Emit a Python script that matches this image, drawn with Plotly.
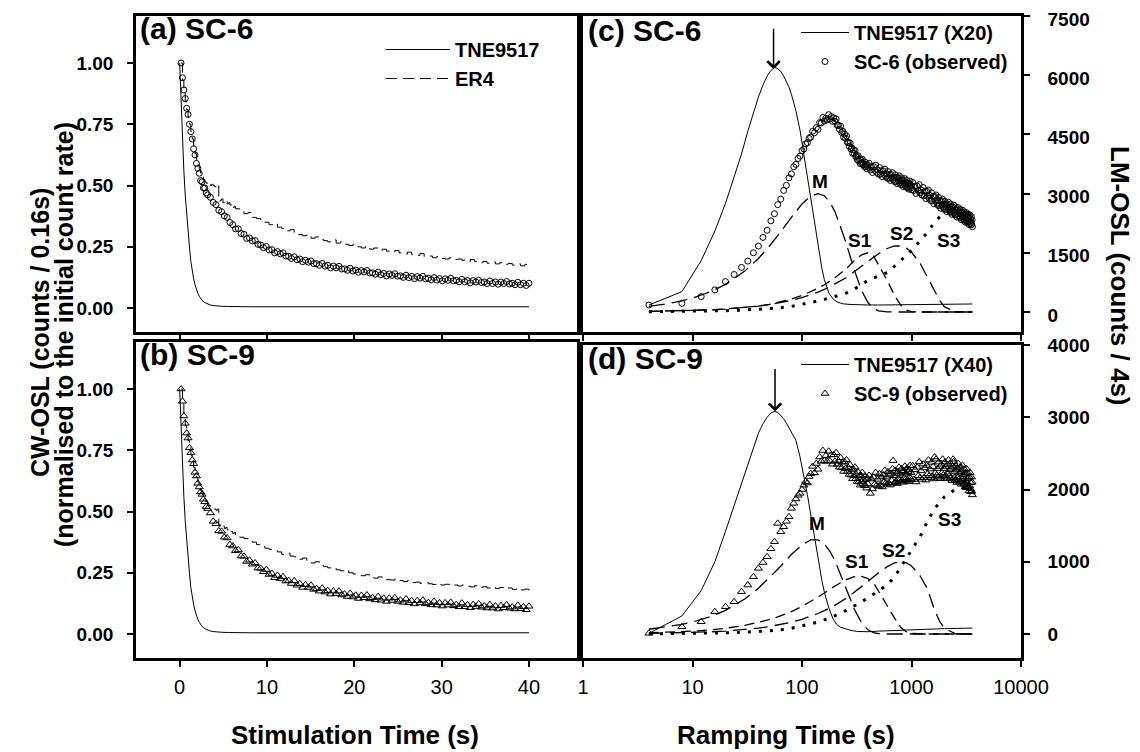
import math
import plotly.graph_objects as go

# ---------------- DATA ----------------
# CW-OSL channel times (s): 0.16 s channels up to 3.2 s, then every second channel
t_cw_obs = [round(0.16 * k, 2) for k in range(1, 21)] + [round(3.2 + 0.32 * k, 2) for k in range(1, 116)]

sc6_cw = [1.00, 0.94, 0.89, 0.855, 0.815, 0.79, 0.75, 0.72, 0.69, 0.65, 0.625, 0.59, 0.57, 0.55, 0.52, 0.515, 0.49, 0.49, 0.47, 0.462,
          0.452, 0.431, 0.422, 0.399, 0.393, 0.376, 0.370, 0.349, 0.340, 0.323,
          0.323, 0.304, 0.301, 0.284, 0.286, 0.274, 0.275, 0.260, 0.257, 0.246,
          0.251, 0.237, 0.238, 0.225, 0.230, 0.221, 0.225, 0.212, 0.211, 0.202,
          0.209, 0.197, 0.200, 0.189, 0.195, 0.187, 0.192, 0.181, 0.181, 0.174,
          0.182, 0.171, 0.174, 0.164, 0.171, 0.164, 0.170, 0.159, 0.160, 0.154,
          0.162, 0.151, 0.155, 0.146, 0.153, 0.147, 0.153, 0.143, 0.144, 0.138,
          0.146, 0.136, 0.141, 0.131, 0.139, 0.133, 0.140, 0.130, 0.131, 0.125,
          0.134, 0.124, 0.129, 0.120, 0.128, 0.122, 0.129, 0.119, 0.121, 0.115,
          0.124, 0.114, 0.120, 0.111, 0.119, 0.113, 0.121, 0.111, 0.113, 0.107,
          0.117, 0.107, 0.112, 0.103, 0.112, 0.106, 0.113, 0.104, 0.106, 0.100,
          0.110, 0.100, 0.106, 0.097, 0.106, 0.100, 0.108, 0.098, 0.101, 0.095,
          0.105, 0.095, 0.101, 0.092, 0.101]

sc9_cw = [1.0, 0.95, 0.89, 0.86, 0.82, 0.8, 0.76, 0.74, 0.71, 0.695, 0.66, 0.645, 0.615, 0.6, 0.58, 0.57, 0.55, 0.54, 0.52, 0.512,
          0.494, 0.460, 0.450, 0.421, 0.419, 0.395, 0.392, 0.365, 0.359, 0.340,
          0.343, 0.318, 0.317, 0.296, 0.301, 0.285, 0.290, 0.269, 0.268, 0.254,
          0.263, 0.243, 0.247, 0.230, 0.239, 0.226, 0.234, 0.216, 0.218, 0.206,
          0.217, 0.199, 0.205, 0.190, 0.201, 0.190, 0.199, 0.182, 0.185, 0.175,
          0.187, 0.171, 0.177, 0.163, 0.175, 0.165, 0.175, 0.159, 0.163, 0.153,
          0.166, 0.151, 0.158, 0.145, 0.157, 0.148, 0.159, 0.143, 0.148, 0.139,
          0.153, 0.138, 0.146, 0.133, 0.146, 0.137, 0.148, 0.133, 0.138, 0.129,
          0.143, 0.128, 0.136, 0.123, 0.136, 0.127, 0.138, 0.123, 0.128, 0.119,
          0.133, 0.118, 0.127, 0.114, 0.127, 0.118, 0.129, 0.115, 0.120, 0.111,
          0.126, 0.111, 0.119, 0.107, 0.120, 0.112, 0.123, 0.109, 0.114, 0.106,
          0.120, 0.106, 0.114, 0.102, 0.116, 0.107, 0.119, 0.105, 0.110, 0.102,
          0.117, 0.103, 0.111, 0.099, 0.113]

# ER4 reference decay (0.16 s channels up to 6.4 s, then 0.48 s steps)
t_er4 = [round(0.16 * k, 2) for k in range(1, 41)] + [round(6.4 + 0.48 * k, 2) for k in range(1, 71)]
er4_a = [1.0, 0.93, 0.88, 0.845, 0.81, 0.78, 0.75, 0.72, 0.69, 0.66, 0.63, 0.605, 0.585, 0.565, 0.55, 0.535, 0.525, 0.515, 0.51, 0.505,
         0.51, 0.50, 0.505, 0.50, 0.495, 0.505, 0.50, 0.435, 0.44, 0.445, 0.43, 0.435, 0.44, 0.425, 0.43, 0.42, 0.425, 0.41, 0.415, 0.405,
         0.40, 0.385, 0.39, 0.37, 0.365, 0.355, 0.35, 0.34, 0.345, 0.33, 0.325, 0.315, 0.32, 0.305, 0.30, 0.295, 0.30, 0.285,
         0.29, 0.28, 0.275, 0.27, 0.278, 0.265, 0.27, 0.26, 0.255, 0.26, 0.25, 0.245, 0.252, 0.24, 0.245, 0.235, 0.24,
         0.232, 0.228, 0.235, 0.225, 0.22, 0.228, 0.218, 0.215, 0.222, 0.21, 0.212, 0.205, 0.21, 0.202, 0.20, 0.205, 0.198,
         0.20, 0.195, 0.19, 0.198, 0.19, 0.185, 0.19, 0.183, 0.188, 0.18, 0.185, 0.178, 0.182, 0.175, 0.18, 0.172, 0.178, 0.17]
er4_b = [1.0, 0.94, 0.89, 0.85, 0.82, 0.79, 0.76, 0.73, 0.71, 0.68, 0.66, 0.64, 0.62, 0.6, 0.585, 0.57, 0.56, 0.55, 0.54, 0.53,
         0.525, 0.52, 0.515, 0.51, 0.51, 0.505, 0.51, 0.44, 0.445, 0.435, 0.44, 0.43, 0.435, 0.425, 0.43, 0.42, 0.418, 0.41, 0.415, 0.405,
         0.395, 0.39, 0.38, 0.375, 0.365, 0.358, 0.35, 0.345, 0.34, 0.335, 0.325, 0.33, 0.318, 0.315, 0.305, 0.31, 0.298, 0.29,
         0.295, 0.28, 0.275, 0.27, 0.272, 0.262, 0.258, 0.262, 0.25, 0.245, 0.24, 0.238, 0.242, 0.232, 0.228, 0.233, 0.225,
         0.222, 0.22, 0.225, 0.218, 0.214, 0.218, 0.21, 0.212, 0.207, 0.21, 0.205, 0.202, 0.206, 0.2, 0.203, 0.198, 0.2,
         0.196, 0.2, 0.195, 0.192, 0.197, 0.19, 0.193, 0.188, 0.192, 0.186, 0.19, 0.184, 0.188, 0.182, 0.186, 0.18, 0.183, 0.178]

# TNE9517 normalised CW-OSL
t_tne_cw = [0, 0.16, 0.32, 0.48, 0.64, 0.8, 0.96, 1.12, 1.28, 1.44, 1.6, 1.76, 1.92, 2.08, 2.24, 2.4, 2.56, 2.88,
            3.2, 3.52, 3.84, 4.16, 4.8, 5.6, 6.4, 8, 10, 15, 20, 25, 30, 35, 40]
tne_cw = [1.0, 0.83, 0.68, 0.56, 0.46, 0.38, 0.31, 0.25, 0.19, 0.15, 0.12, 0.095, 0.075, 0.06, 0.048, 0.038, 0.031, 0.022,
          0.016, 0.012, 0.01, 0.008, 0.007, 0.006, 0.005, 0.005, 0.005, 0.005, 0.005, 0.005, 0.005, 0.005, 0.005]

# LM-OSL channel times (s)
t_lm = list(range(4, 121, 4)) + list(range(125, 401, 5)) + list(range(410, 1001, 10)) + list(range(1025, 3601, 25))

sc6_lm = [177, 220, 390, 560, 770, 950, 1130, 1290, 1500, 1670, 1890, 2070, 2310, 2490, 2720, 2860, 3080, 3210, 3400, 3500,
          3680, 3740, 3890, 3950, 4090, 4130, 4260, 4290, 4400, 4430,
          4580, 4540, 4670, 4630, 4800, 4790, 4930, 4840, 4910, 4870,
          5000, 4890, 4950, 4830, 4920, 4830, 4890, 4730, 4730, 4630,
          4710, 4550, 4580, 4430, 4510, 4400, 4460, 4300, 4300, 4200,
          4280, 4130, 4160, 4020, 4110, 4020, 4090, 3940, 3950, 3860,
          3960, 3830, 3880, 3760, 3860, 3780, 3870, 3730, 3760, 3690,
          3800, 3680, 3740, 3630, 3740, 3670,
          3770, 3598, 3686, 3535, 3684, 3593, 3722, 3540, 3600, 3490,
          3660, 3490, 3580, 3430, 3580, 3490, 3620, 3440, 3500, 3390,
          3560, 3390, 3482, 3334, 3486, 3398, 3530, 3352, 3414, 3306,
          3478, 3310, 3402, 3254, 3406, 3318, 3450, 3272, 3335, 3228,
          3401, 3234, 3327, 3180, 3333, 3246, 3379, 3202, 3265, 3158,
          3332, 3166, 3260, 3114, 3268, 3182, 3316, 3140, 3204, 3098,
          3282, 3080, 3187, 3005, 3192, 3080, 3227, 3015, 3092, 2960,
          3156, 2952, 3058, 2874, 3060, 2946, 3092, 2878, 2954, 2820,
          3018, 2816, 2924, 2742, 2930, 2818, 2966, 2754, 2832, 2700,
          2900, 2700, 2810, 2630, 2820, 2710, 2860, 2650, 2730, 2600,
          2803, 2606, 2719, 2542, 2735, 2628, 2781, 2574, 2657, 2530,
          2733, 2536, 2649, 2472, 2665, 2558, 2711, 2504, 2587, 2460,
          2663, 2467, 2580, 2404, 2597, 2491, 2644, 2438, 2521, 2395,
          2598, 2402, 2515, 2339, 2532, 2426, 2579, 2373, 2456, 2330,
          2534, 2338, 2452, 2276, 2470, 2364, 2518, 2312, 2396, 2270,
          2474, 2278, 2392, 2216, 2410, 2304, 2458, 2252, 2336, 2210,
          2415, 2220, 2335, 2160]

sc9_lm = [10, 101, 170, 309, 378, 447, 586, 678, 793, 909, 990, 1070, 1180, 1278, 1532, 1416, 1485, 1560, 1623, 1740,
          1809, 1870, 1920, 1947, 2000, 2060, 2110, 2090, 2180, 2220,
          2320, 2230, 2360, 2280, 2450, 2390, 2540, 2400, 2470, 2390,
          2530, 2395, 2480, 2350, 2480, 2390, 2510, 2350, 2400, 2310,
          2440, 2300, 2380, 2250, 2380, 2290, 2410, 2250, 2300, 2210,
          2340, 2200, 2280, 2150, 2280, 2190, 2310, 2150, 2200, 2110,
          2242, 2105, 2188, 2061, 2195, 2110, 2235, 2080, 2136, 2052,
          2188, 2055, 2142, 2020, 2158, 2076,
          2195, 1947, 2146, 2008, 2170, 2072, 2235, 2058, 2141, 2044,
          2217, 2060, 2173, 2036, 2199, 2102, 2265, 2088, 2171, 2074,
          2246, 2088, 2200, 2062, 2224, 2126, 2288, 2400, 2192, 2094,
          2266, 2108, 2220, 2082, 2244, 2146, 2308, 2130, 2212, 2114,
          2286, 2127, 2238, 2099, 2260, 2161, 2322, 2143, 2224, 2125,
          2296, 2137, 2248, 2109, 2270, 2171, 2332, 2153, 2234, 2135,
          2328, 2140, 2273, 2105, 2308, 2190, 2383, 2165, 2258, 2140,
          2353, 2165, 2298, 2130, 2333, 2215, 2408, 2190, 2283, 2165,
          2376, 2186, 2317, 2147, 2450, 2228, 2419, 2199, 2290, 2170,
          2380, 2190, 2320, 2150, 2350, 2230, 2420, 2200, 2290, 2170,
          2380, 2190, 2320, 2148, 2345, 2223, 2410, 2188, 2275, 2153,
          2360, 2168, 2295, 2123, 2320, 2420, 2385, 2163, 2250, 2128,
          2335, 2143, 2270, 2098, 2295, 2173, 2360, 2138, 2225, 2103,
          2310, 2118, 2245, 2073, 2270, 2148, 2335, 2113, 2200, 2078,
          2282, 2087, 2211, 2036, 2230, 2105, 2289, 2064, 2148, 2023,
          2227, 2032, 2156, 1981, 2175, 2050, 2234, 2009, 2093, 1968,
          2172, 1977, 2101, 1926]

# TNE9517 LM-OSL (scaled)
t_tne_lm = [4, 8, 12, 16, 20, 24, 28, 32, 36, 40, 44, 48, 52, 56, 60, 64, 68, 72, 76, 80, 88, 96, 104, 112, 120, 128, 136,
            144, 152, 160, 176, 192, 208, 224, 240, 280, 320, 400, 500, 700, 1000, 1500, 2000, 3000, 3600]
tne_lm_x20 = [177, 515, 1300, 2050, 2750, 3400, 4000, 4580, 5050, 5450, 5750, 5980, 6120, 6200, 6170, 6100, 5980, 5850, 5700,
              5520, 5100, 4600, 4000, 3400, 2850, 2350, 1900, 1450, 1100, 820, 480, 330, 260, 225, 205, 190, 182, 178, 177,
              180, 185, 190, 195, 200, 203]
tne_lm_x40 = [10, 250, 600, 1000, 1420, 1780, 2100, 2370, 2600, 2780, 2910, 3000, 3060, 3080, 3070, 3030, 2980, 2920, 2860,
              2800, 2680, 2450, 2200, 1930, 1660, 1400, 1150, 930, 740, 580, 360, 210, 130, 95, 80, 50, 35, 32, 40, 50, 60,
              70, 75, 80, 82]

# fitted components
t_comp = [4, 6, 8, 10, 15, 20, 30, 40, 50, 60, 80, 100, 120, 140, 160, 180, 200, 250, 300, 350, 400, 450, 500, 600, 700,
          800, 900, 1000, 1200, 1400, 1600, 1800, 2000, 2500, 3000, 3600]
m_c = [141, 212, 282, 352, 527, 699, 1036, 1357, 1660, 1933, 2400, 2738, 2937, 3000, 2946, 2780, 2543, 1792, 1071, 543, 239,
       91, 30, 2, 0, 0, 0, 0, 0, 0, 0, 0, 0, 0, 0, 0]
s1_c = [15, 22, 30, 37, 55, 75, 110, 150, 190, 240, 330, 420, 510, 600, 690, 780, 870, 1080, 1300, 1450, 1500, 1420, 1200,
        800, 420, 170, 50, 10, 0, 0, 0, 0, 0, 0, 0, 0]
s2_c = [15, 22, 30, 37, 55, 74, 111, 148, 184, 221, 294, 366, 436, 505, 573, 640, 713, 860, 1023, 1150, 1281, 1380, 1478,
        1609, 1673, 1673, 1618, 1518, 1232, 880, 560, 300, 130, 10, 0, 0]
s3_c = [7, 10, 14, 17, 26, 34, 51, 68, 85, 100, 140, 190, 240, 280, 320, 360, 390, 470, 580, 700, 800, 860, 910, 1000, 1160,
        1300, 1440, 1560, 1820, 2020, 2250, 2400, 2480, 2520, 2450, 2300]
m_d = [66, 100, 133, 166, 248, 328, 485, 634, 772, 896, 1100, 1236, 1302, 1303, 1247, 1145, 1016, 652, 347, 155, 58, 19, 5,
       0, 0, 0, 0, 0, 0, 0, 0, 0, 0, 0, 0, 0]
s1_d = [16, 24, 32, 40, 60, 80, 119, 159, 198, 236, 310, 382, 449, 511, 569, 620, 665, 750, 794, 797, 767, 710, 590, 400,
        220, 90, 30, 8, 0, 0, 0, 0, 0, 0, 0, 0]
s2_d = [8, 12, 16, 21, 31, 41, 62, 82, 103, 124, 164, 204, 245, 284, 323, 362, 399, 490, 576, 656, 727, 792, 848, 933, 984,
        1000, 985, 943, 803, 625, 360, 180, 80, 5, 0, 0]
s3_d = [3, 5, 6, 8, 12, 16, 25, 34, 43, 52, 80, 110, 140, 165, 195, 225, 255, 325, 385, 445, 500, 550, 600, 680, 790, 930,
        1060, 1170, 1350, 1560, 1720, 1820, 1900, 2000, 2020, 2000]

cw_ticks = [0, 0.25, 0.5, 0.75, 1.0]
cw_ticktext = ["0.00", "0.25", "0.50", "0.75", "1.00"]
time_ticks = [0, 10, 20, 30, 40]
log_ticks = [1, 10, 100, 1000, 10000]
log_ticktext = ["1", "10", "100", "1000", "10000"]
lm_ticks_c = [0, 1500, 3000, 4500, 6000, 7500]
lm_ticks_d = [0, 1000, 2000, 3000, 4000]

# ---------------- STYLE / LAYOUT ----------------
W, H = 1140, 752
OFF = 8  # the page body adds an 8 px margin; positions below are page pixels

def PX(x):
    return (x - OFF) / W
def PY(y):
    return 1 - (y - OFF) / H

FONT = "Liberation Sans, Arial, sans-serif"
K = "black"

fig = go.Figure()

def line_tr(x, y, xa, ya, dash="solid", width=1.0, name=None, legend=None, shape="linear"):
    fig.add_trace(go.Scatter(x=x, y=y, mode="lines", xaxis=xa, yaxis=ya,
                             line=dict(color=K, width=width, dash=dash, shape=shape),
                             name=name, legend=legend, showlegend=name is not None,
                             hoverinfo="skip"))

def mark_tr(x, y, xa, ya, symbol, size, name=None, legend=None):
    fig.add_trace(go.Scatter(x=x, y=y, mode="markers", xaxis=xa, yaxis=ya,
                             marker=dict(symbol=symbol, size=size, color=K, line=dict(color=K, width=1)),
                             name=name, legend=legend, showlegend=name is not None,
                             hoverinfo="skip"))

# (a)
line_tr(t_tne_cw, tne_cw, "x", "y", name="TNE9517", legend="legend")
line_tr(t_er4, er4_a, "x", "y", dash="11px,6px", name="ER4", legend="legend", shape="hv")
mark_tr(t_cw_obs, sc6_cw, "x", "y", "circle-open", 6)
# (b)
line_tr(t_tne_cw, tne_cw, "x2", "y2")
line_tr(t_er4, er4_b, "x2", "y2", dash="11px,6px", shape="hv")
mark_tr(t_cw_obs, sc9_cw, "x2", "y2", "triangle-up-open", 7)
# (c)
line_tr(t_comp, m_c, "x3", "y3", dash="16px,7px", width=1.3)
line_tr(t_comp, s1_c, "x3", "y3", dash="10px,6px", width=1.3)
line_tr(t_comp, s2_c, "x3", "y3", dash="14px,7px", width=1.3)
line_tr(t_comp, s3_c, "x3", "y3", dash="3px,8px", width=3)
line_tr(t_tne_lm, tne_lm_x20, "x3", "y3", name="TNE9517 (X20)", legend="legend2")
mark_tr(t_lm, sc6_lm, "x3", "y3", "circle-open", 6, name="SC-6 (observed)", legend="legend2")
# (d)
line_tr(t_comp, m_d, "x4", "y4", dash="16px,7px", width=1.3)
line_tr(t_comp, s1_d, "x4", "y4", dash="10px,6px", width=1.3)
line_tr(t_comp, s2_d, "x4", "y4", dash="14px,7px", width=1.3)
line_tr(t_comp, s3_d, "x4", "y4", dash="3px,8px", width=3)
line_tr(t_tne_lm, tne_lm_x40, "x4", "y4", name="TNE9517 (X40)", legend="legend3")
mark_tr(t_lm, sc9_lm, "x4", "y4", "triangle-up-open", 7, name="SC-9 (observed)", legend="legend3")

axis_common = dict(showline=True, linecolor=K, linewidth=2.5, mirror=True, ticks="outside", ticklen=6,
                   tickwidth=1.5, tickcolor=K, showgrid=False, zeroline=False, automargin=False,
                   ticklabeloverflow="allow")
ytick_font = dict(family=FONT, size=19, color=K, weight="bold")
xtick_font = dict(family=FONT, size=20, color=K)

left_dom = [PX(136), PX(577)]
right_dom = [PX(583), PX(1021)]
top_dom = [PY(332), PY(16)]
bot_dom_l = [PY(658), PY(342)]
bot_dom_r = [PY(658), PY(345)]
leg_font = dict(family=FONT, size=20, color=K, weight="bold")

fig.update_layout(
    width=W, height=H, margin=dict(l=0, r=0, t=0, b=0, autoexpand=False),
    paper_bgcolor="white", plot_bgcolor="white",
    xaxis=dict(axis_common, domain=left_dom, range=[-5, 45.5], tickvals=time_ticks, showticklabels=False, anchor="y"),
    yaxis=dict(axis_common, domain=top_dom, range=[-0.098, 1.192], tickvals=cw_ticks, ticktext=cw_ticktext,
               tickfont=ytick_font, ticklabelstandoff=10, anchor="x"),
    xaxis2=dict(axis_common, domain=left_dom, range=[-5, 45.5], tickvals=time_ticks, tickfont=xtick_font,
                ticklabelstandoff=3, anchor="y2"),
    yaxis2=dict(axis_common, domain=bot_dom_l, range=[-0.098, 1.192], tickvals=cw_ticks, ticktext=cw_ticktext,
                tickfont=ytick_font, ticklabelstandoff=10, anchor="x2"),
    xaxis3=dict(axis_common, type="log", domain=right_dom, range=[0, 4], tickvals=log_ticks, showticklabels=False,
                anchor="y3"),
    yaxis3=dict(axis_common, domain=top_dom, range=[-507, 7501], tickvals=lm_ticks_c, side="right",
                tickfont=ytick_font, ticklabelstandoff=14, ticklabelshift=3, anchor="x3"),
    xaxis4=dict(axis_common, type="log", domain=right_dom, range=[0, 4], tickvals=log_ticks, ticktext=log_ticktext,
                tickfont=xtick_font, ticklabelstandoff=3, anchor="y4"),
    yaxis4=dict(axis_common, domain=bot_dom_r, range=[-332, 4001], tickvals=lm_ticks_d, side="right",
                tickfont=ytick_font, ticklabelstandoff=14, anchor="x4"),
    legend=dict(x=PX(381), y=PY(30), xanchor="left", yanchor="top", bgcolor="rgba(0,0,0,0)",
                font=leg_font, itemwidth=64, tracegroupgap=0),
    legend2=dict(x=PX(796), y=PY(13), xanchor="left", yanchor="top", bgcolor="rgba(0,0,0,0)",
                 font=leg_font, itemwidth=48, tracegroupgap=0),
    legend3=dict(x=PX(796), y=PY(345), xanchor="left", yanchor="top", bgcolor="rgba(0,0,0,0)",
                 font=leg_font, itemwidth=48, tracegroupgap=0),
    showlegend=True,
)

ann = []
def label(text, x, y, size=30, xanchor="left", yanchor="top", weight="bold", angle=0):
    ann.append(dict(text=text, x=x, y=y, xref="paper", yref="paper", xanchor=xanchor, yanchor=yanchor,
                    showarrow=False, textangle=angle,
                    font=dict(family=FONT, size=size, color=K, weight=weight)))

label("(a) SC-6", PX(138), PY(10))
label("(b) SC-9", PX(138), PY(336))
label("(c) SC-6", PX(586), PY(12))
label("(d) SC-9", PX(586), PY(340))

# component labels in data coordinates
def comp_label(text, t, v, xa, ya):
    ann.append(dict(text=text, x=math.log10(t), y=v, xref=xa, yref=ya, showarrow=False,
                    font=dict(family=FONT, size=19, color=K, weight="bold")))

comp_label("M", 146, 3300, "x3", "y3")
comp_label("S1", 340, 1820, "x3", "y3")
comp_label("S2", 810, 1990, "x3", "y3")
comp_label("S3", 2190, 1820, "x3", "y3")
comp_label("M", 138, 1530, "x4", "y4")
comp_label("S1", 316, 1000, "x4", "y4")
comp_label("S2", 682, 1160, "x4", "y4")
comp_label("S3", 2240, 1580, "x4", "y4")

# arrows marking the TNE9517 peak
for xa, ya, t, v, ay in [("x3", "y3", 55, 6150, -42), ("x4", "y4", 56.7, 3080, -44)]:
    ann.append(dict(x=math.log10(t), y=v, xref=xa, yref=ya, ax=0, ay=ay, text="", showarrow=True,
                    arrowhead=4, arrowsize=1.6, arrowwidth=1.5, arrowcolor=K))

# axis titles
label("CW-OSL (counts / 0.16s)", PX(40), PY(333), size=25, xanchor="center", yanchor="middle", angle=-90)
label("(normalised to the initial count rate)", PX(64), PY(335), size=25, xanchor="center", yanchor="middle", angle=-90)
label("LM-OSL (counts / 4s)", PX(1120), PY(276), size=26, xanchor="center", yanchor="middle", angle=90)
label("Stimulation Time (s)", PX(355), PY(735), size=26, xanchor="center", yanchor="middle")
label("Ramping Time (s)", PX(786), PY(735), size=26, xanchor="center", yanchor="middle")

fig.update_layout(annotations=ann)
fig.write_html("out.html")
